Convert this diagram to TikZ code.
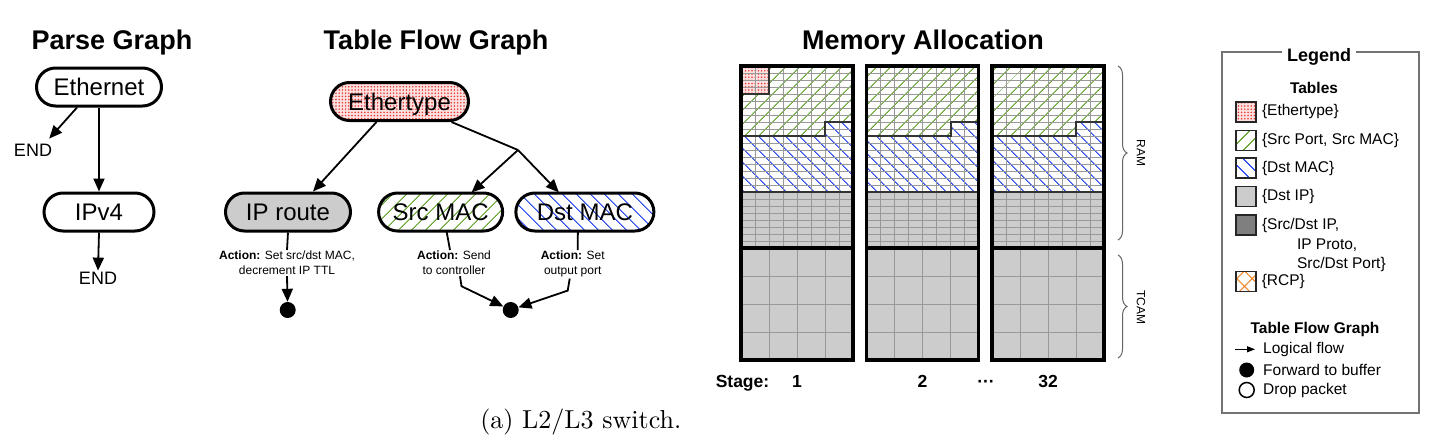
\documentclass[tikz,border=0pt]{standalone}
\usepackage{fontspec}
\newfontfamily\hv{Liberation Sans}
\usepackage{tikz}
\usetikzlibrary{positioning,arrows.meta,patterns.meta,decorations.pathreplacing}
\definecolor{srcgreen}{HTML}{6AA838}
\definecolor{dstblue}{HTML}{3050F0}
\definecolor{etred}{HTML}{E5332E}
\definecolor{etpink}{HTML}{FBE0E0}
\definecolor{ipgray}{HTML}{CCCCCC}
\definecolor{fivegray}{HTML}{7F7F7F}
\definecolor{rcporange}{HTML}{F0862A}
\definecolor{gridgray}{HTML}{999999}
\definecolor{edgegray}{HTML}{333333}

\begin{document}
\begin{tikzpicture}[
    x=1pt, y=-1pt,
    heading/.style={font=\hv\bfseries\fontsize{27}{30}\selectfont, anchor=base, inner sep=0},
    tbl/.style={draw, line width=3pt, rounded corners=19pt, minimum height=38pt, text height=17pt, text depth=0pt, inner sep=0, font=\hv\fontsize{24}{26}\selectfont},
    endlbl/.style={font=\hv\fontsize{18}{20}\selectfont, inner sep=1pt},
    action/.style={font=\hv\fontsize{12}{15}\selectfont, align=center, inner sep=1pt, anchor=north},
    fwd/.style={circle, fill=black, minimum size=16pt, inner sep=0},
    arr/.style={-{Triangle[length=13pt, width=11pt]}, line width=1.8pt},
    joinline/.style={line width=1.8pt},
    srchatch/.style={pattern={Lines[angle=45, distance=10.5pt, line width=1.25pt]}, pattern color=srcgreen},
    dsthatch/.style={pattern={Lines[angle=-45, distance=10.5pt, line width=1.25pt]}, pattern color=dstblue},
    etdots/.style={preaction={fill=etpink}, pattern={Dots[distance=3.2pt, radius=0.85pt]}, pattern color=etred},
    rcphatch/.style={pattern={Hatch[angle=45, distance=11pt, line width=1.1pt]}, pattern color=rcporange},
    gridline/.style={draw=gridgray, line width=0.8pt},
    edgeline/.style={draw=edgegray, line width=2pt},
    blockline/.style={draw=black, line width=3.4pt},
    stagelbl/.style={font=\hv\bfseries\fontsize{17.5}{20}\selectfont, anchor=base, inner sep=0},
    bracestyle/.style={decorate, decoration={brace, amplitude=9pt}, draw=black!60, line width=1pt},
    sidelbl/.style={font=\hv\fontsize{12}{14}\selectfont, rotate=-90, inner sep=0},
    legendbox/.style={draw=black!55, line width=1.2pt},
    swatch/.style={draw=black!85, line width=1.6pt, minimum size=20pt, inner sep=0},
    lgtext/.style={font=\hv\fontsize{15.5}{19.5}\selectfont, inner sep=0},
    lgheading/.style={font=\hv\bfseries\fontsize{15.5}{18}\selectfont, text height=11.2pt, text depth=0pt, inner sep=0},
    lgarr/.style={-{Triangle[length=8pt, width=6pt]}, line width=1.3pt},
    lgdot/.style={circle, minimum size=15pt, inner sep=0}
]
    \path[use as bounding box, fill=white] (0,0) rectangle (1436,442);

    % Parse Graph
    \node[heading] (pgtitle) at (112,49) {Parse Graph};
    \node[tbl, fill=white, minimum width=125pt] (eth) at (99,87) {Ethernet};
    \node[tbl, fill=white, minimum width=110pt, below=84pt of eth] (ipv) {IPv4};
    \node[endlbl] (end1) at (33,150) {END};
    \node[endlbl] (end2) at (98,278) {END};

    \draw[arr] ([xshift=-22pt]eth.south) -- ([xshift=-4pt, yshift=4pt]end1.north east);
    \draw[arr] (eth.south) -- (ipv.north);
    \draw[arr] (ipv.south) -- (end2.north);

    % Table Flow Graph
    \node[heading] (tfgtitle) at (436,49) {Table Flow Graph};
    \node[tbl, etdots, minimum width=138pt] (etype) at (399.5,101.5) {Ethertype};
    \node[tbl, fill=ipgray, minimum width=125pt] (iproute) at (288,212) {IP route};
    \node[tbl, srchatch, minimum width=124pt, right=26pt of iproute] (srcmac) {Src MAC};
    \node[tbl, dsthatch, minimum width=138pt, right=12pt of srcmac] (dstmac) {Dst MAC};
    \coordinate (split) at (518,150);

    \node[action] (act1) at (287,250) {\textbf{Action:} Set src/dst MAC,\\decrement IP TTL};
    \node[action] (act2) at (454,250) {\textbf{Action:} Send\\to controller};
    \node[action] (act3) at (572.7,250) {\textbf{Action:} Set\\output port};
    \node[fwd] (fwd1) at (287.7,310) {};
    \node[fwd] (fwd2) at (510.7,310) {};

    \draw[arr] ([xshift=-23pt]etype.south) -- ([xshift=25pt]iproute.north);
    \draw[joinline] ([xshift=52pt]etype.south) -- (split);
    \draw[arr] (split) -- ([xshift=31pt]srcmac.north);
    \draw[arr] (split) -- ([xshift=-26pt]dstmac.north);

    \draw[joinline] (iproute.south) -- (act1.north);
    \draw[joinline] ([xshift=6pt]srcmac.south) -- ([xshift=-4pt]act2.north);
    \draw[joinline] ([xshift=-7pt]dstmac.south) -- ([xshift=5pt]act3.north);
    \draw[arr] (act1.south) -- (fwd1);
    \draw[arr] ([xshift=6pt]act2.south) -- ++(1.5,10) -- (fwd2);
    \draw[arr] ([xshift=-3pt]act3.south) -- ++(-2,12) -- (fwd2);

    % Memory Allocation
    \node[heading] (matitle) at (923,49) {Memory Allocation};
    \foreach \bx/\stg [count=\i] in {741/1, 866.5/2, 992/32}{
        \begin{scope}[shift={(\bx,66)}]
            \fill[srchatch] (0,0) -- (112,0) -- (112,56) -- (84,56) -- (84,70) -- (0,70) -- cycle;
            \fill[dsthatch] (0,70) -- (84,70) -- (84,56) -- (112,56) -- (112,126) -- (0,126) -- cycle;
            \fill[ipgray] (0,126) rectangle (112,294);
            \ifnum\i=1 \fill[etdots] (0,0) rectangle (28,28); \fi
            \draw[gridline, xstep=14pt, ystep=7pt] (0,0) grid (112,182);
            \begin{scope}[shift={(0,182)}]
                \draw[gridline, step=28pt] (0,0) grid (112,112);
            \end{scope}
            \ifnum\i=1 \draw[edgeline] (0,28) -- (28,28) -- (28,0); \fi
            \draw[edgeline] (0,70) -- (84,70) -- (84,56) -- (112,56);
            \draw[edgeline] (0,126) -- (112,126);
            \draw[blockline] (0,182) -- (112,182);
            \draw[blockline] (0,0) rectangle (112,294);
        \end{scope}
        \node[stagelbl] (stage\i) at ({\bx+56},387) {\stg};
    }
    \node[stagelbl] (stagehead) at (742.5,387) {Stage:};
    \node[stagelbl] (stagedots) at (986,387) {···};

    \coordinate (ramtop) at (1118,66);
    \coordinate (rambot) at (1118,240);
    \coordinate (tcamtop) at (1118,255);
    \coordinate (tcambot) at (1118,358);
    \draw[bracestyle] (ramtop) -- (rambot);
    \draw[bracestyle] (tcamtop) -- (tcambot);
    \node[sidelbl] (ramlbl) at (1141,153) {RAM};
    \node[sidelbl] (tcamlbl) at (1141,307) {TCAM};

    % Legend
    \node[legendbox, minimum width=197pt, minimum height=361pt] (legend) at (1320.5,232.5) {};
    \node[fill=white, inner xsep=5pt, inner ysep=2pt, font=\hv\bfseries\fontsize{18}{20}\selectfont, text height=13pt, text depth=0pt] (lgtitle) at (1319,55) {Legend};
    \node[lgheading] (lgtables) at (1314,88) {Tables};

    \node[swatch, etdots] (swet) at (1246,111.7) {};
    \node[lgtext, right=5pt of swet] (lget) {\{Ethertype\}};
    \node[swatch, srchatch] (swsrc) at (1246,140.5) {};
    \node[lgtext, right=5pt of swsrc] (lgsrc) {\{Src Port, Src MAC\}};
    \node[swatch, dsthatch] (swdst) at (1246,168) {};
    \node[lgtext, right=5pt of swdst] (lgdst) {\{Dst MAC\}};
    \node[swatch, fill=ipgray] (swip) at (1246,196.5) {};
    \node[lgtext, right=5pt of swip] (lgip) {\{Dst IP\}};
    \node[swatch, fill=fivegray] (swfive) at (1246,225) {};
    \node[lgtext, align=left, anchor=north west] (lgfive) at ([xshift=5pt, yshift=-4pt]swfive.north east) {\{Src/Dst IP,\\\hspace*{35pt}IP Proto,\\\hspace*{35pt}Src/Dst Port\}};
    \node[swatch, rcphatch] (swrcp) at (1246,281.5) {};
    \node[lgtext, right=5pt of swrcp] (lgrcp) {\{RCP\}};

    \node[lgheading] (lgtfg) at (1315,328) {Table Flow Graph};
    \coordinate (lgtail) at (1235,349.3);
    \node[lgtext, anchor=west] (lgflow) at (1263,349.3) {Logical flow};
    \draw[lgarr, shorten >=8pt] (lgtail) -- (lgflow.west);
    \node[lgdot, fill=black] (lgfwd) at (1246.7,370) {};
    \node[lgtext, anchor=west] (lgfwdtxt) at (1263,370) {Forward to buffer};
    \node[lgdot, draw, line width=1.5pt] (lgdrop) at (1246.7,390) {};
    \node[lgtext, anchor=west] (lgdroptxt) at (1263,390) {Drop packet};

    % Caption
    \node[font=\rmfamily\fontsize{10}{12}\selectfont, scale=2.6, anchor=base, inner sep=0] (caption) at (580.8,428.5) {(a) L2/L3 switch.};
\end{tikzpicture}
\end{document}
